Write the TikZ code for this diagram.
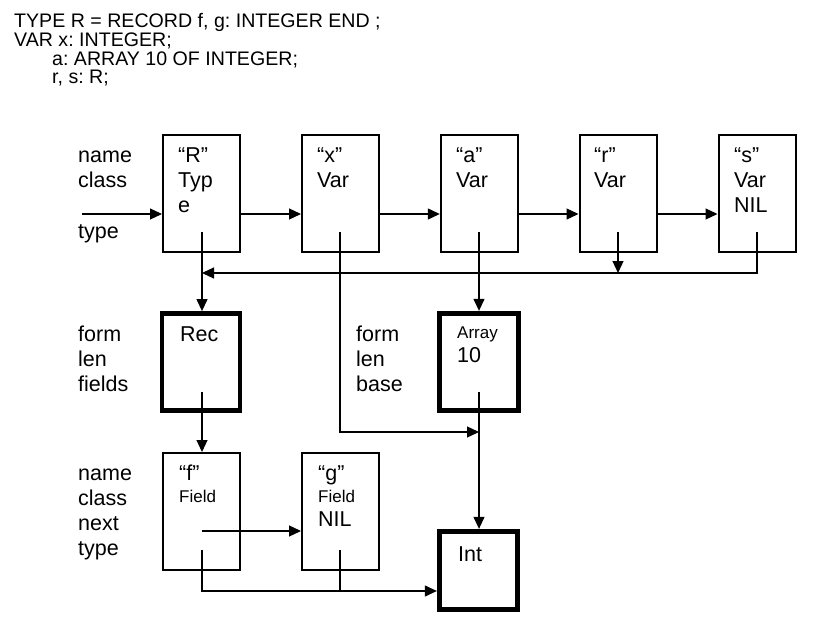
\documentclass[tikz,border=0pt]{standalone}
\usepackage{fontspec}
\setmainfont{Liberation Sans}
\usetikzlibrary{arrows.meta}
\frenchspacing
\begin{document}
\frenchspacing
\begin{tikzpicture}[x=1pt,y=-1pt,
  thinbox/.style={draw,line width=2pt,minimum width=77pt,minimum height=117pt,inner sep=0pt},
  thickbox/.style={draw,line width=4.8pt,inner sep=0pt},
  arr/.style={line width=1.2pt,-{Triangle[length=12pt,width=11pt]}},
  ln/.style={line width=1.2pt},
  txt/.style={anchor=base west,inner sep=0pt,font=\fontsize{21.5}{25}\selectfont},
  small/.style={anchor=base west,inner sep=0pt,font=\fontsize{17}{20}\selectfont},
  code/.style={anchor=base west,inner sep=0pt,font=\fontsize{19.6}{19}\selectfont}]
\useasboundingbox (0,0) rectangle (818,628);

% code text
\node[code] (c1) at (14,28) {TYPE R = RECORD f, g: INTEGER END ;};
\node[code] (c2) at (14,47) {VAR x: INTEGER;};
\node[code] (c3) at (52,66) {a: ARRAY 10 OF INTEGER;};
\node[code] (c4) at (52,84) {r, s: R;};

% boxes
\node[thinbox] (R) at (201.5,193.5) {};
\node[thinbox] (X) at (340.5,193.5) {};
\node[thinbox] (A) at (479.3,193.5) {};
\node[thinbox] (Rv) at (618,193.5) {};
\node[thinbox] (S) at (757,193.5) {};
\node[thickbox,minimum width=78pt,minimum height=97pt] (Rec) at (201,362) {};
\node[thickbox,minimum width=79pt,minimum height=97.5pt] (Arr) at (479,362) {};
\node[thickbox,minimum width=78.5pt,minimum height=78.5pt] (Int) at (478.5,570.5) {};
\node[thinbox] (F) at (201,511.5) {};
\node[thinbox] (G) at (340.5,511.5) {};

% labels
\node[txt] (l1) at (78,163) {name};
\node[txt] (l2) at (78,188) {class};
\node[txt] (l3) at (78,238) {type};
\node[txt] (l4) at (78,341) {form};
\node[txt] (l5) at (78,366) {len};
\node[txt] (l6) at (78,391) {fields};
\node[txt] (l7) at (356,341) {form};
\node[txt] (l8) at (356,366) {len};
\node[txt] (l9) at (356,391) {base};
\node[txt] (l10) at (78,480) {name};
\node[txt] (l11) at (78,505) {class};
\node[txt] (l12) at (78,530) {next};
\node[txt] (l13) at (78,555) {type};

% box texts
\node[txt] (tR1) at (178,163) {“R”};
\node[txt] (tR2) at (178,188) {Typ};
\node[txt] (tR3) at (178,213) {e};
\node[txt] (tX1) at (317,163) {“x”};
\node[txt] (tX2) at (317,188) {Var};
\node[txt] (tA1) at (456,163) {“a”};
\node[txt] (tA2) at (456,188) {Var};
\node[txt] (tr1) at (594,163) {“r”};
\node[txt] (tr2) at (594,188) {Var};
\node[txt] (tS1) at (734,163) {“s”};
\node[txt] (tS2) at (734,188) {Var};
\node[txt] (tS3) at (734,213) {NIL};
\node[txt] (tRec) at (180,341) {Rec};
\node[small] (tArr1) at (457,338) {Array};
\node[txt] (tArr2) at (457,362) {10};
\node[txt] (tF1) at (179,480) {“f”};
\node[small] (tF2) at (179,502) {Field};
\node[txt] (tG1) at (318,480) {“g”};
\node[small] (tG2) at (318,502) {Field};
\node[txt] (tG3) at (318,526) {NIL};
\node[txt] (tInt) at (458,561) {Int};

% coordinates
\coordinate (in) at (82,214);
\coordinate (pR) at (202,232);
\coordinate (pX) at (340,232);
\coordinate (pA) at (479,232);
\coordinate (pr) at (618,232);
\coordinate (pS) at (757,232);
\coordinate (back) at (757,273);
\coordinate (pRec) at (202,392);
\coordinate (pArr) at (479,392);
\coordinate (xb) at (340,432);
\coordinate (pFn) at (202,531);
\coordinate (pFt) at (202,550);
\coordinate (pGt) at (340,550);
\coordinate (bot) at (202,591);

% next chain
\draw[arr] (in) -- (in -| R.west);
\draw[arr] (in -| R.east) -- (in -| X.west);
\draw[arr] (in -| X.east) -- (in -| A.west);
\draw[arr] (in -| A.east) -- (in -| Rv.west);
\draw[arr] (in -| Rv.east) -- (in -| S.west);

% type pointers
\draw[arr] (pS) -- (back) -- (back -| pR);
\draw[arr] (pr) -- (pr |- back);
\draw[arr] (pR) -- (Rec.north -| pR);
\draw[arr] (pX) -- (xb) -- (xb -| pArr);
\draw[arr] (pA) -- (Arr.north -| pA);
\draw[arr] (pRec) -- (F.north -| pRec);
\draw[arr] (pArr) -- (Int.north -| pArr);
\draw[arr] (pFn) -- (pFn -| G.west);
\draw[arr] (pFt) -- (bot) -- (bot -| Int.west);
\draw[ln] (pGt) -- (pGt |- bot);
\end{tikzpicture}
\end{document}
